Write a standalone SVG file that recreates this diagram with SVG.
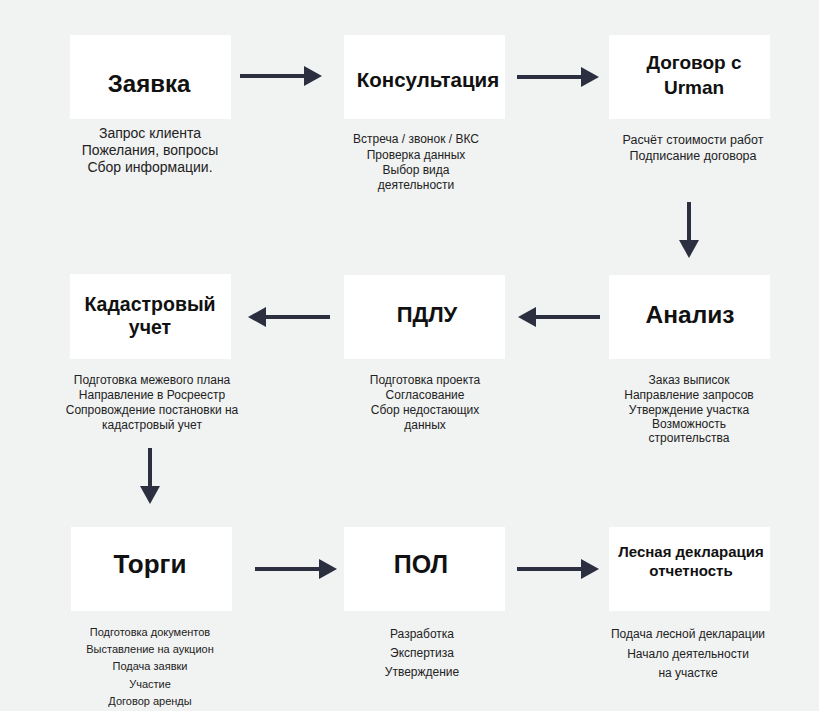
<svg xmlns="http://www.w3.org/2000/svg" width="819" height="711" viewBox="0 0 819 711">
<defs>
<marker id="ah" markerUnits="userSpaceOnUse" viewBox="0 0 18 20" refX="2" refY="10" markerWidth="18" markerHeight="20" orient="auto">
<path d="M0,0 L18,10 L0,20 Z" fill="#2b2f3f"/>
</marker>
</defs>
<style>
.box{fill:#ffffff}
.t{font-family:"Liberation Sans",Arial,sans-serif;font-weight:bold;fill:#111111;text-anchor:middle}
.s{font-family:"Liberation Sans",Arial,sans-serif;fill:#222222;text-anchor:middle}
.c{stroke:#2b2f3f;stroke-width:4;fill:none;marker-end:url(#ah)}
</style>
<rect width="819" height="711" fill="#f1f2f2"/>

<g id="connectors">
<line class="c" x1="240" y1="76" x2="306" y2="76"/>
<line class="c" x1="517" y1="77" x2="583" y2="77"/>
<line class="c" x1="689" y1="202" x2="689" y2="242"/>
<line class="c" x1="330" y1="317" x2="264" y2="317"/>
<line class="c" x1="600" y1="317" x2="534" y2="317"/>
<line class="c" x1="150" y1="448" x2="150" y2="488"/>
<line class="c" x1="255" y1="569" x2="321" y2="569"/>
<line class="c" x1="517" y1="569" x2="583" y2="569"/>
</g>

<g id="zayavka">
<rect class="box" x="70" y="35" width="161" height="84"/>
<text class="t" x="149" y="92" font-size="24">Заявка</text>
<text class="s" font-size="14"><tspan x="150" y="138">Запрос клиента</tspan><tspan x="150" y="155">Пожелания, вопросы</tspan><tspan x="150" y="172">Сбор информации.</tspan></text>
</g>

<g id="konsultaciya">
<rect class="box" x="344" y="35" width="161" height="84"/>
<text class="t" x="428" y="87" font-size="20.5">Консультация</text>
<text class="s" font-size="12"><tspan x="416" y="143">Встреча / звонок / ВКС</tspan><tspan x="416" y="159">Проверка данных</tspan><tspan x="416" y="174">Выбор вида</tspan><tspan x="416" y="189">деятельности</tspan></text>
</g>

<g id="dogovor">
<rect class="box" x="609" y="35" width="161" height="84"/>
<text class="t" font-size="19"><tspan x="694" y="69">Договор с</tspan><tspan x="694" y="94">Urman</tspan></text>
<text class="s" font-size="12.5"><tspan x="693" y="144">Расчёт стоимости работ</tspan><tspan x="693" y="160">Подписание договора</tspan></text>
</g>

<g id="analiz">
<rect class="box" x="609" y="275" width="161" height="84"/>
<text class="t" x="690" y="323" font-size="24.5">Анализ</text>
<text class="s" font-size="12"><tspan x="689" y="384">Заказ выписок</tspan><tspan x="689" y="399">Направление запросов</tspan><tspan x="689" y="414">Утверждение участка</tspan><tspan x="689" y="428">Возможность</tspan><tspan x="689" y="442">строительства</tspan></text>
</g>

<g id="pdlu">
<rect class="box" x="344" y="275" width="161" height="84"/>
<text class="t" x="427" y="322" font-size="22">ПДЛУ</text>
<text class="s" font-size="12"><tspan x="425" y="384">Подготовка проекта</tspan><tspan x="425" y="399">Согласование</tspan><tspan x="425" y="414">Сбор недостающих</tspan><tspan x="425" y="429">данных</tspan></text>
</g>

<g id="kadastr">
<rect class="box" x="70" y="274" width="161" height="85"/>
<text class="t" font-size="19.5"><tspan x="150" y="311">Кадастровый</tspan><tspan x="150" y="334">учет</tspan></text>
<text class="s" font-size="12"><tspan x="152" y="384">Подготовка межевого плана</tspan><tspan x="152" y="399">Направление в Росреестр</tspan><tspan x="152" y="414">Сопровождение постановки на</tspan><tspan x="152" y="429">кадастровый учет</tspan></text>
</g>

<g id="torgi">
<rect class="box" x="71" y="527" width="161" height="84"/>
<text class="t" x="150" y="573" font-size="26">Торги</text>
<text class="s" font-size="11"><tspan x="150" y="636">Подготовка документов</tspan><tspan x="150" y="653">Выставление на аукцион</tspan><tspan x="150" y="670">Подача заявки</tspan><tspan x="150" y="688">Участие</tspan><tspan x="150" y="705">Договор аренды</tspan></text>
</g>

<g id="pol">
<rect class="box" x="344" y="527" width="161" height="84"/>
<text class="t" x="421" y="573" font-size="25">ПОЛ</text>
<text class="s" font-size="12"><tspan x="422" y="638">Разработка</tspan><tspan x="422" y="657">Экспертиза</tspan><tspan x="422" y="676">Утверждение</tspan></text>
</g>

<g id="lesnaya">
<rect class="box" x="609" y="527" width="161" height="84"/>
<text class="t" font-size="15"><tspan x="691" y="557">Лесная декларация</tspan><tspan x="691" y="576">отчетность</tspan></text>
<text class="s" font-size="12"><tspan x="688" y="638">Подача лесной декларации</tspan><tspan x="688" y="658">Начало деятельности</tspan><tspan x="688" y="677">на участке</tspan></text>
</g>
</svg>
